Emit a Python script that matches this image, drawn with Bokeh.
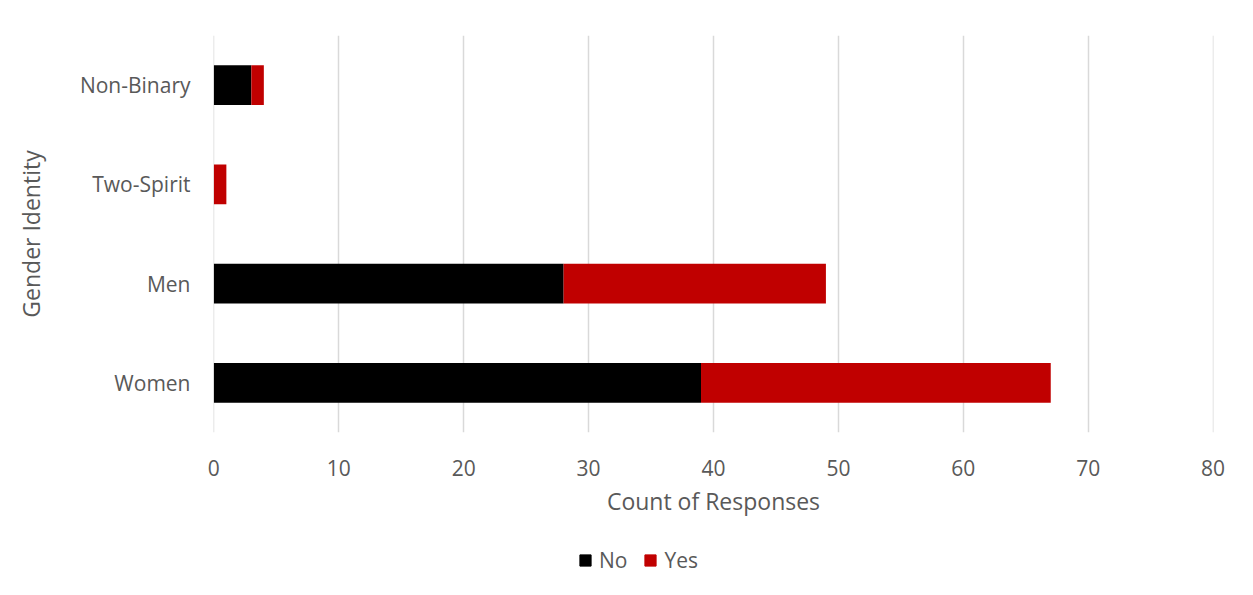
from bokeh.plotting import figure
from bokeh.layouts import column
from bokeh.models import ColumnDataSource, FactorRange, Range1d, Legend, LegendItem, FixedTicker
from bokeh.embed import file_html
from bokeh.resources import INLINE

categories = ["Women", "Men", "Two-Spirit", "Non-Binary"]
no_vals = [39, 28, 0, 3]
yes_vals = [28, 21, 1, 1]
series = ["No", "Yes"]
colors = ["#000000", "#c00000"]
x_ticks = [0, 10, 20, 30, 40, 50, 60, 70, 80]

FONT = "Open Sans"
TXT = "#595959"

src = ColumnDataSource(dict(cat=categories, No=no_vals, Yes=yes_vals))

p = figure(width=1253, height=525, output_backend="svg", toolbar_location=None,
           y_range=FactorRange(factors=categories), x_range=Range1d(-0.03, 80.03),
           min_border_left=213, min_border_right=40, min_border_top=35, min_border_bottom=93)

rs = p.hbar_stack(series, y="cat", height=0.4, color=colors, source=src, line_color=None)

p.outline_line_color = None
p.xgrid.grid_line_color = "#d9d9d9"
p.xgrid.grid_line_width = 1.5
p.ygrid.grid_line_color = None

p.xaxis.ticker = FixedTicker(ticks=x_ticks)
for ax in (p.xaxis[0], p.yaxis[0]):
    ax.axis_line_color = None
    ax.major_tick_line_color = None
    ax.minor_tick_line_color = None
    ax.major_tick_out = 0
    ax.major_tick_in = 0
    ax.major_label_text_font = FONT
    ax.major_label_text_font_size = "21px"
    ax.major_label_text_color = TXT
    ax.axis_label_text_font = FONT
    ax.axis_label_text_font_size = "23px"
    ax.axis_label_text_color = TXT
    ax.axis_label_text_font_style = "normal"

p.xaxis.axis_label = "Count of Responses"
p.yaxis.axis_label = "Gender Identity"
p.xaxis.major_label_standoff = 27
p.xaxis.axis_label_standoff = 6
p.yaxis.major_label_standoff = 23
p.yaxis.axis_label_standoff = 30

# legend strip (its frame is aligned with the main plot's frame by the column layout)
p2 = figure(width=1253, height=70, output_backend="svg", toolbar_location=None,
            x_range=Range1d(0, 1), y_range=Range1d(0, 1),
            min_border_left=0, min_border_right=0, min_border_top=0, min_border_bottom=0)
p2.axis.visible = False
p2.grid.grid_line_color = None
p2.outline_line_color = None
dummies = [p2.hbar(y=[-1], left=[0], right=[0], height=0.4, color=c) for c in colors]

legend = Legend(items=[LegendItem(label=s, renderers=[r]) for s, r in zip(series, dummies)],
                orientation="horizontal", location=(365, 21),
                label_text_font=FONT, label_text_font_size="21px", label_text_color=TXT,
                glyph_width=14, glyph_height=14, spacing=16, label_standoff=7,
                border_line_color=None, background_fill_alpha=0, padding=0, margin=0)
p2.add_layout(legend, "center")

layout = column(p, p2, spacing=0)
open("out.html", "w").write(file_html(layout, INLINE))
